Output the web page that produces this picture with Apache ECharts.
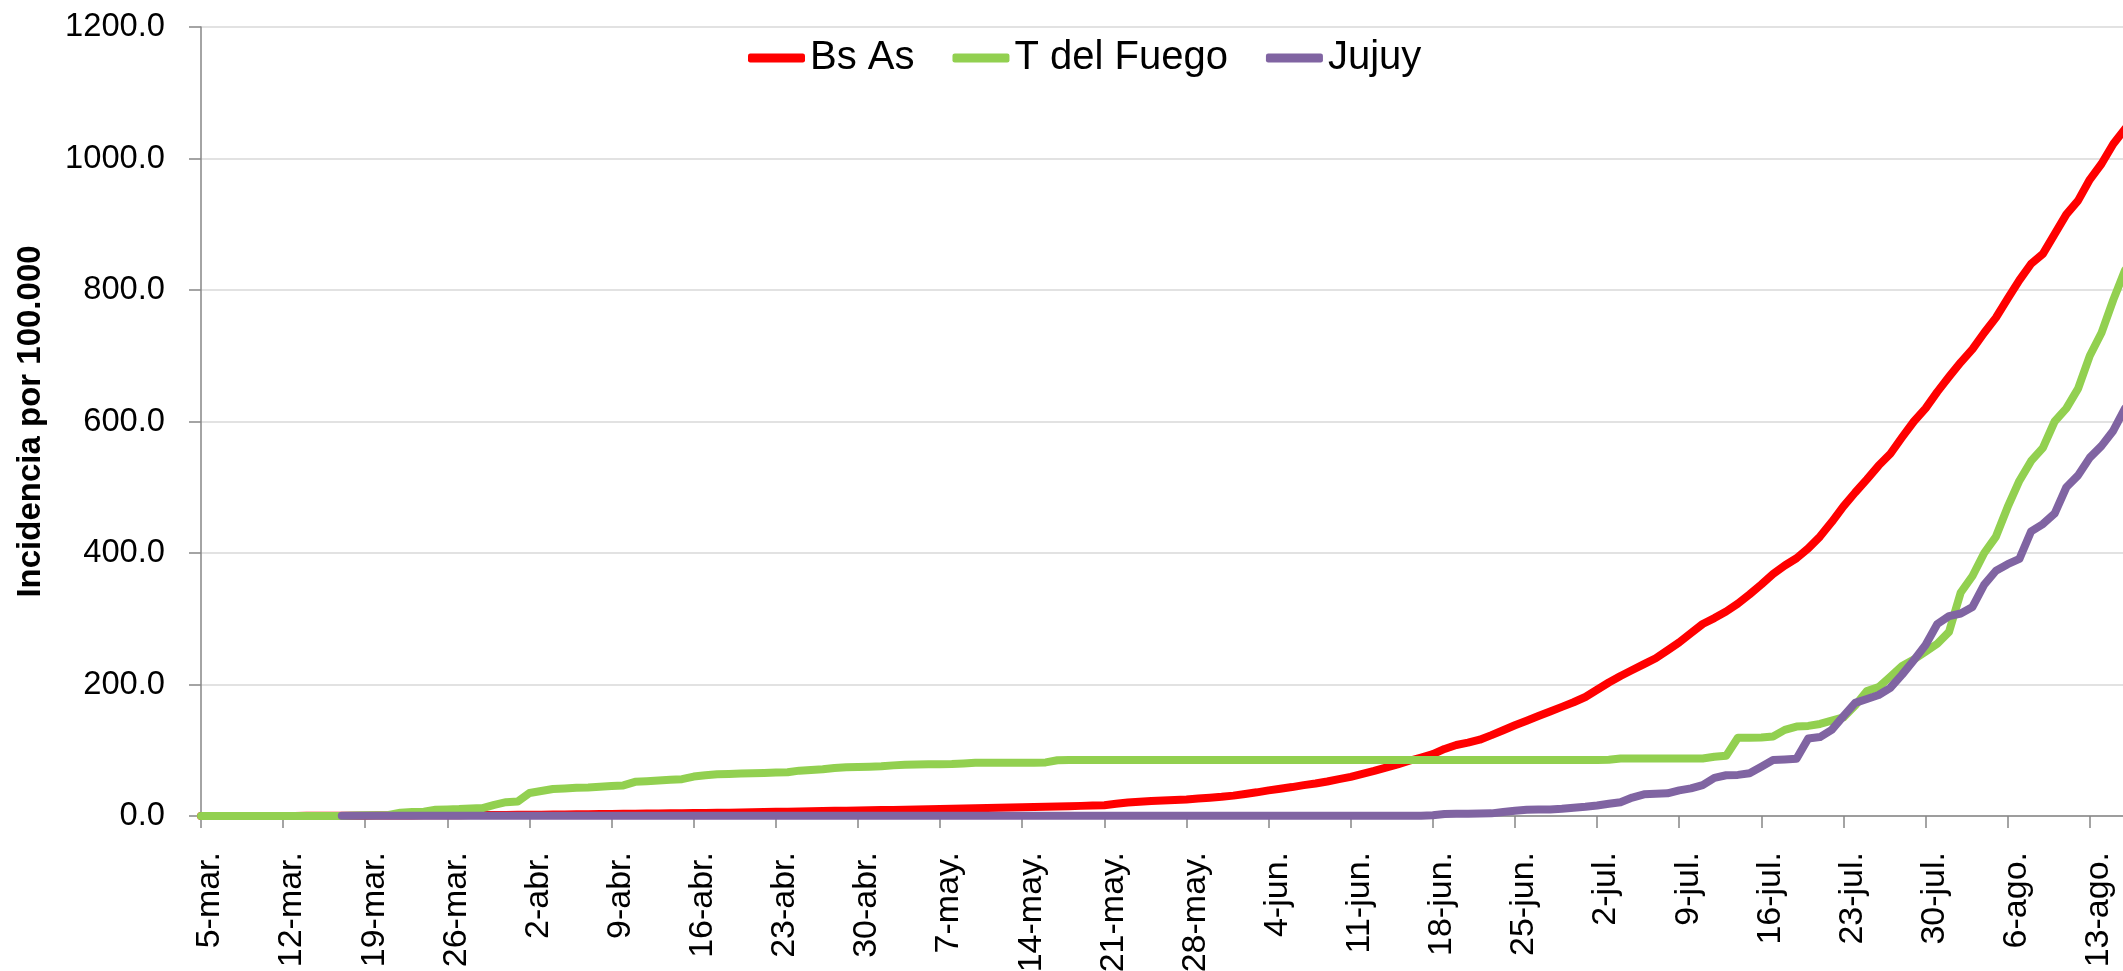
<!DOCTYPE html>
<html>
<head>
<meta charset="utf-8">
<script src="https://cdn.jsdelivr.net/npm/echarts@6/dist/echarts.min.js"></script>
<style>
html,body{margin:0;padding:0;background:#ffffff;}
#chart{width:2123px;height:971px;}
</style>
</head>
<body>
<div id="chart"></div>
<script>
// Daily categories, 5-mar to 16-ago
const categories = [
  '5-mar.','6-mar.','7-mar.','8-mar.','9-mar.','10-mar.','11-mar.','12-mar.','13-mar.','14-mar.','15-mar.','16-mar.','17-mar.','18-mar.','19-mar.','20-mar.','21-mar.','22-mar.','23-mar.','24-mar.','25-mar.','26-mar.','27-mar.','28-mar.','29-mar.','30-mar.','31-mar.',
  '1-abr.','2-abr.','3-abr.','4-abr.','5-abr.','6-abr.','7-abr.','8-abr.','9-abr.','10-abr.','11-abr.','12-abr.','13-abr.','14-abr.','15-abr.','16-abr.','17-abr.','18-abr.','19-abr.','20-abr.','21-abr.','22-abr.','23-abr.','24-abr.','25-abr.','26-abr.','27-abr.','28-abr.','29-abr.','30-abr.',
  '1-may.','2-may.','3-may.','4-may.','5-may.','6-may.','7-may.','8-may.','9-may.','10-may.','11-may.','12-may.','13-may.','14-may.','15-may.','16-may.','17-may.','18-may.','19-may.','20-may.','21-may.','22-may.','23-may.','24-may.','25-may.','26-may.','27-may.','28-may.','29-may.','30-may.','31-may.',
  '1-jun.','2-jun.','3-jun.','4-jun.','5-jun.','6-jun.','7-jun.','8-jun.','9-jun.','10-jun.','11-jun.','12-jun.','13-jun.','14-jun.','15-jun.','16-jun.','17-jun.','18-jun.','19-jun.','20-jun.','21-jun.','22-jun.','23-jun.','24-jun.','25-jun.','26-jun.','27-jun.','28-jun.','29-jun.','30-jun.',
  '1-jul.','2-jul.','3-jul.','4-jul.','5-jul.','6-jul.','7-jul.','8-jul.','9-jul.','10-jul.','11-jul.','12-jul.','13-jul.','14-jul.','15-jul.','16-jul.','17-jul.','18-jul.','19-jul.','20-jul.','21-jul.','22-jul.','23-jul.','24-jul.','25-jul.','26-jul.','27-jul.','28-jul.','29-jul.','30-jul.','31-jul.',
  '1-ago.','2-ago.','3-ago.','4-ago.','5-ago.','6-ago.','7-ago.','8-ago.','9-ago.','10-ago.','11-ago.','12-ago.','13-ago.','14-ago.','15-ago.','16-ago.'
];

const seriesNames = ['Bs As', 'T del Fuego', 'Jujuy'];

const bsAs = [
  0,0,0,0,0,0,0,0.1,0.1,0.2,
  0.2,0.3,0.3,0.4,0.5,0.6,0.7,0.8,0.9,1.0,
  1.1,1.2,1.3,1.4,1.5,1.6,1.7,1.8,1.9,2.0,
  2.1,2.3,2.5,2.7,2.9,3.1,3.3,3.5,3.7,3.9,
  4.1,4.3,4.5,4.7,4.9,5.1,5.4,5.7,6.0,6.3,
  6.6,6.9,7.2,7.5,7.8,8.1,8.4,8.7,9.0,9.3,
  9.6,10.0,10.3,10.7,11.0,11.4,11.8,12.1,12.5,12.9,
  13.3,13.7,14.0,14.5,15.0,15.4,15.9,16.5,18.5,20.5,
  21.8,22.8,23.5,24.3,25.2,26.5,27.8,29.2,31.0,33.5,
  36.0,39.0,41.5,44.0,47.0,49.5,52.5,56.0,59.5,64.0,
  68.5,73.5,78.5,84.0,89.0,94.0,102.0,108.0,111.5,116.0,
  123,130.5,138,145,152,159,166,173,181,192,
  203,213,222,231,240,252,264,278,292,301,
  311,323,337,352,368,381,392,407,425,447,
  471,492,512,533,551,576,600,620,645,668,
  690,710,735,758,787,815,840,855,885,915,
  936,968,992,1022,1045
];

const tDelFuego = [
  0,0,0,0,0,0,0,0,0,0,
  0,0,0,0.8,1,1.2,1.5,5,6,6.5,
  9.5,10,10.5,11.5,12,17,21,22,35,38,
  41,42,43,43.5,44.5,45.5,46.5,52,53,54,
  55,56,60,62,63.5,64,64.5,65,65.5,66,
  66.5,69,70,71,73,74,74.5,75,75.5,77,
  78,78.5,78.6,78.8,79,80,81,81,81,81,
  81,81,81.5,84.7,85,85,85,85,85,85,
  85,85,85,85,85,85,85,85,85,85,
  85,85,85,85,85,85,85,85,85,85,
  85,85,85,85,85,85,85,85,85,85,
  85,85,85,85,85,85,85,85,85,85,
  85.5,87.5,87.5,87.5,87.5,87.5,87.5,87.5,87.5,90,
  91.5,119,119,119.5,121,131,136,137,140,145,
  150,168,190,196,212,228,238,250,262,280,
  340,365,400,425,470,510,540,560,600,620,
  650,700,735,785,830
];

const jujuy = [
  null,null,null,null,null,null,null,null,null,null,
  null,null,0.3,0.3,0.3,0.3,0.3,0.3,0.3,0.3,
  0.3,0.3,0.3,0.3,0.3,0.3,0.3,0.3,0.3,0.3,
  0.3,0.3,0.3,0.3,0.3,0.3,0.3,0.3,0.3,0.3,
  0.3,0.3,0.3,0.3,0.3,0.3,0.3,0.3,0.3,0.3,
  0.3,0.3,0.3,0.3,0.3,0.3,0.3,0.3,0.3,0.3,
  0.3,0.3,0.3,0.3,0.3,0.3,0.3,0.3,0.3,0.3,
  0.3,0.3,0.3,0.3,0.3,0.3,0.3,0.3,0.3,0.3,
  0.3,0.3,0.3,0.3,0.3,0.3,0.3,0.3,0.3,0.3,
  0.3,0.3,0.3,0.3,0.3,0.3,0.3,0.3,0.3,0.3,
  0.3,0.3,0.3,0.3,0.3,1,3,3.5,3.6,3.8,
  4,6,8,9.5,9.7,10,11,12.5,14,16,
  18.5,21,28,33,34,34.5,39,42,47,58,
  62,62.5,65,75,85,86,87,118,120,131,
  152,172,178,184,195,215,237,260,292,304,
  308,318,352,373,383,391,433,444,460,500,
  518,545,563,586,620
];

const yMin = 0, yMax = 1200, yInterval = 200;
const yAxisTitle = 'Incidencia por 100.000';

const FONT = "'Liberation Sans', Arial, sans-serif";
const colors = ['#FF0000', '#92D050', '#8064A2'];
const dataSets = [bsAs, tDelFuego, jujuy];

const chart = echarts.init(document.getElementById('chart'), null, {renderer: 'canvas'});
chart.setOption({
  animation: false,
  backgroundColor: '#ffffff',
  grid: {left: 201, right: -2, top: 27, bottom: 155, outerBoundsMode: 'none'},
  legend: {
    left: 748, top: 38, padding: 0,
    itemWidth: 57, itemHeight: 9, itemGap: 38,
    icon: 'roundRect',
    data: seriesNames,
    textStyle: {fontFamily: FONT, fontSize: 40, color: '#000000'}
  },
  xAxis: {
    type: 'category',
    data: categories,
    boundaryGap: false,
    axisLine: {lineStyle: {color: '#868686', width: 1.5}},
    axisTick: {show: true, interval: 6, length: 12, lineStyle: {color: '#868686', width: 1.5}},
    axisLabel: {
      interval: 6, rotate: 90, margin: 36, hideOverlap: false,
      fontFamily: FONT, fontSize: 34, color: '#000000',
      verticalAlign: 'top', lineHeight: 18
    },
    splitLine: {show: false}
  },
  yAxis: {
    type: 'value',
    min: yMin, max: yMax, interval: yInterval,
    name: yAxisTitle,
    nameLocation: 'middle',
    nameRotate: 90,
    nameGap: 154,
    nameTextStyle: {fontFamily: FONT, fontWeight: 'bold', fontSize: 33, color: '#000000'},
    axisLine: {show: true, lineStyle: {color: '#868686', width: 1.5}},
    axisTick: {show: true, length: 12, lineStyle: {color: '#868686', width: 1.5}},
    axisLabel: {
      margin: 36, fontFamily: FONT, fontSize: 32.7, color: '#000000',
      formatter: function (v) { return v.toFixed(1); }
    },
    splitLine: {show: true, lineStyle: {color: '#D9D9D9', width: 1.5}}
  },
  series: seriesNames.map(function (name, i) {
    return {
      name: name,
      type: 'line',
      data: dataSets[i],
      symbol: 'none',
      smooth: false,
      clip: true,
      color: colors[i],
      lineStyle: {color: colors[i], width: 8, cap: 'round', join: 'round'},
      emphasis: {disabled: true}
    };
  })
});
</script>
</body>
</html>
